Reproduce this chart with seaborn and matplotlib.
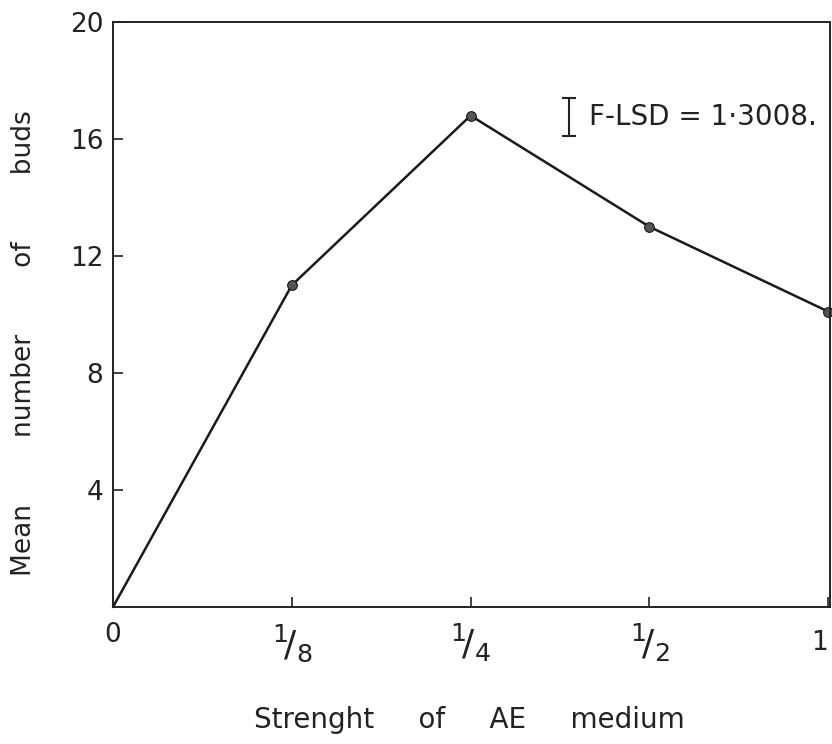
import matplotlib
matplotlib.use("Agg")
import matplotlib.pyplot as plt
import seaborn as sns
import pandas as pd

strengths = ["0", "1/8", "1/4", "1/2", "1"]
tick_labels = ["0", r"$^{1}\!/_{8}$", r"$^{1}\!/_{4}$", r"$^{1}\!/_{2}$", ""]
mean_buds = [0.0, 11.0, 16.8, 13.0, 10.1]
y_ticks = [4, 8, 12, 16, 20]
lsd_value = 1.3008

sns.set_theme(style="ticks")
plt.rcParams["font.family"] = ["DejaVu Sans"]
plt.rcParams["mathtext.fontset"] = "dejavusans"

ink = "#222222"
df = pd.DataFrame({"pos": range(len(strengths)), "buds": mean_buds, "strength": strengths})

fig = plt.figure(figsize=(8.32, 7.44), dpi=100)
ax = fig.add_axes([113/832, 1 - 607/744, (830 - 113)/832, (607 - 22)/744])

sns.lineplot(data=df, x="pos", y="buds", ax=ax, color="#1a1a1a", linewidth=1.8,
             marker="o", markersize=7, markeredgecolor="#111111", markerfacecolor="#555555",
             markevery=[1, 2, 3, 4], clip_on=False)

ax.set_xlim(0, 4.01)
ax.set_ylim(0, 20)
ax.set_xticks(range(len(strengths)))
ax.set_xticklabels(tick_labels, color=ink)
for i, lab in enumerate(ax.get_xticklabels()):
    lab.set_fontsize(19 if i == 0 else 26)
    lab.set_va("top")
ax.set_yticks(y_ticks)
ax.set_yticklabels([str(v) for v in y_ticks], fontsize=19, color=ink)
ax.tick_params(axis="both", direction="in", length=7, width=1.2, colors=ink)
ax.tick_params(axis="x", pad=11)
ax.tick_params(axis="y", pad=7)

# the last "1" label sits at the right edge of the frame
ax.annotate(strengths[-1], xy=(4, 0), xycoords=("data", "axes fraction"), xytext=(0, -26),
            textcoords="offset points", fontsize=19, ha="right", va="center", color=ink,
            annotation_clip=False)

for s in ["left", "bottom", "top", "right"]:
    ax.spines[s].set_visible(True)
    ax.spines[s].set_color(ink)
    ax.spines[s].set_linewidth(1.4)

ax.set_xlabel("Strenght     of     AE     medium", fontsize=20, color=ink)
ax.xaxis.set_label_coords(0.497, -0.170)
ax.set_ylabel("Mean        number        of        buds", fontsize=19, color=ink)
ax.yaxis.set_label_coords(-0.106, 0.451)

# F-LSD bar
xb, yc = 2.55, 16.75
ax.errorbar([xb], [yc], yerr=[[lsd_value/2], [lsd_value/2]], fmt="none",
            ecolor=ink, elinewidth=1.5, capsize=5, capthick=1.5)
ax.text(xb + 0.11, yc, "F-LSD = 1·3008.", fontsize=20, va="center", ha="left", color=ink)

ax.grid(False)
fig.savefig("out.png", dpi=100)
